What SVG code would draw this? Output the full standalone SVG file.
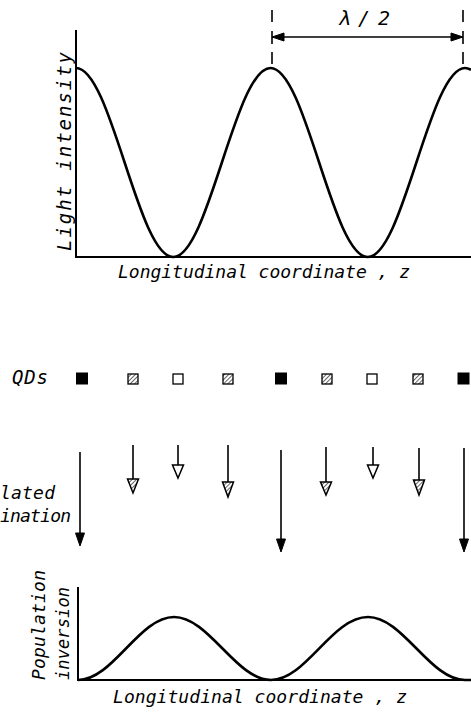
<svg xmlns="http://www.w3.org/2000/svg" width="471" height="713" viewBox="0 0 471 713">
  <style>
    .axis { stroke: #000; stroke-width: 2; fill: none; }
    .curve { stroke: #000; stroke-width: 2.6; fill: none; stroke-linejoin: round; }
    .lbl { font-family: "DejaVu Sans Mono", "Liberation Mono", monospace; font-style: italic; fill: #000; }
    .shaft { stroke: #000; stroke-width: 1.6; fill: none; }
    .headFilled { fill: #000; stroke: #000; stroke-width: 1; }
    .headHatch { fill: url(#hatch); stroke: #000; stroke-width: 1.5; stroke-linejoin: miter; }
    .headOpen { fill: #fff; stroke: #000; stroke-width: 1.5; stroke-linejoin: miter; }
    .qdFilled { fill: #000; stroke: #000; stroke-width: 1; }
    .qdHatch { fill: url(#hatch); stroke: #000; stroke-width: 1.3; }
    .qdOpen { fill: #fff; stroke: #000; stroke-width: 1.3; }
    .tick { stroke: #000; stroke-width: 1.6; }
  </style>
  <defs>
    <pattern id="hatch" patternUnits="userSpaceOnUse" width="3" height="3" patternTransform="rotate(45)">
      <rect width="3" height="3" fill="#fff"/>
      <line x1="0" y1="0" x2="0" y2="3" stroke="#000" stroke-width="1.2"/>
    </pattern>
  </defs>

  <!-- Top plot: light intensity -->
  <g id="plot-intensity">
    <path class="axis" d="M76,30 V257 H471"/>
    <path class="curve" d="M76,68 C111.3,68 137.95,257 173.25,257 C208.55,257 235.2,68 270.5,68 C305.8,68 332.45,257 367.75,257 C403.05,257 429.7,68 465,68 Q468,68 471,69.8"/>
    <text class="lbl" font-size="19" transform="translate(71,251) rotate(-90)" textLength="199" lengthAdjust="spacing">Light  intensity</text>
    <text class="lbl" font-size="18" x="118" y="278" textLength="292" lengthAdjust="spacing">Longitudinal coordinate , z</text>
  </g>

  <!-- lambda/2 dimension -->
  <g id="dim-lambda">
    <path class="tick" d="M272,10 V22 M272,31 V44 M272,52 V64 M463,10 V22 M463,31 V44 M463,52 V64"/>
    <line class="shaft" x1="278" y1="37" x2="457" y2="37"/>
    <polygon class="headFilled" points="272,37 284,33 284,41"/>
    <polygon class="headFilled" points="463,37 451,33 451,41"/>
    <text class="lbl" font-size="20" x="338" y="25" textLength="52" lengthAdjust="spacing">λ/2</text>
  </g>

  <!-- QDs row -->
  <text class="lbl" font-size="19" x="12" y="384" textLength="36" lengthAdjust="spacing">QDs</text>
  <g id="qd-1"><rect class="qdFilled" x="76.5" y="373" width="11" height="11"/></g>
  <g id="qd-2"><rect class="qdHatch" x="128" y="374" width="10" height="10"/></g>
  <g id="qd-3"><rect class="qdOpen" x="173" y="374" width="10" height="10"/></g>
  <g id="qd-4"><rect class="qdHatch" x="223" y="374" width="10" height="10"/></g>
  <g id="qd-5"><rect class="qdFilled" x="275.5" y="373" width="11" height="11"/></g>
  <g id="qd-6"><rect class="qdHatch" x="322" y="374" width="10" height="10"/></g>
  <g id="qd-7"><rect class="qdOpen" x="367" y="374" width="10" height="10"/></g>
  <g id="qd-8"><rect class="qdHatch" x="413" y="374" width="10" height="10"/></g>
  <g id="qd-9"><rect class="qdFilled" x="458" y="373" width="11" height="11"/></g>

  <!-- recombination arrows -->
  <g id="connectors">
    <line class="shaft" x1="80" y1="452" x2="80" y2="535"/>
    <polygon class="headFilled" points="75.5,533 84.5,533 80,546"/>
    <line class="shaft" x1="281" y1="450" x2="281" y2="541"/>
    <polygon class="headFilled" points="276.5,539 285.5,539 281,552"/>
    <line class="shaft" x1="464" y1="448" x2="464" y2="541"/>
    <polygon class="headFilled" points="459.5,539 468.5,539 464,552"/>

    <line class="shaft" x1="133" y1="445" x2="133" y2="479"/>
    <polygon class="headHatch" points="127.5,479 138.5,479 133,493"/>
    <line class="shaft" x1="178" y1="445" x2="178" y2="465"/>
    <polygon class="headOpen" points="172.5,465 183.5,465 178,478"/>
    <line class="shaft" x1="228" y1="445" x2="228" y2="482"/>
    <polygon class="headHatch" points="222.5,482 233.5,482 228,497"/>
    <line class="shaft" x1="326" y1="447" x2="326" y2="482"/>
    <polygon class="headHatch" points="320.5,482 331.5,482 326,495"/>
    <line class="shaft" x1="373" y1="447" x2="373" y2="465"/>
    <polygon class="headOpen" points="367.5,465 378.5,465 373,478"/>
    <line class="shaft" x1="419" y1="448" x2="419" y2="480"/>
    <polygon class="headHatch" points="413.5,480 424.5,480 419,495"/>
  </g>

  <text class="lbl" font-size="18" x="0" y="499" textLength="55" lengthAdjust="spacing">lated</text>
  <text class="lbl" font-size="18" x="0" y="522" textLength="71" lengthAdjust="spacing">ination</text>

  <!-- Bottom plot: population inversion -->
  <g id="plot-inversion">
    <path class="axis" d="M78,587 V680 H471"/>
    <path class="curve" d="M78,680 C113,680 139,617 174,617 C209,617 236,680 271,680 C306,680 332,617 368,617 C403,617 430,680 465,680 L471,680"/>
    <text class="lbl" font-size="18" transform="translate(45,680) rotate(-90)" textLength="110" lengthAdjust="spacing">Population</text>
    <text class="lbl" font-size="17" transform="translate(69,680) rotate(-90)" textLength="93" lengthAdjust="spacing">inversion</text>
    <text class="lbl" font-size="18" x="113" y="703" textLength="294" lengthAdjust="spacing">Longitudinal  coordinate , z</text>
  </g>
</svg>
